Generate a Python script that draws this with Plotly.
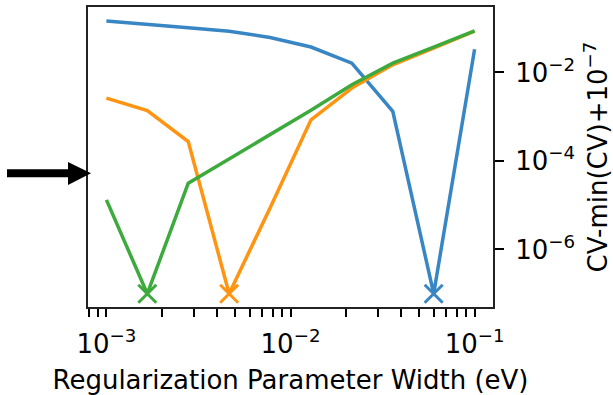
import plotly.graph_objects as go

# Regularization widths (eV) scanned in the cross-validation
widths = [0.001, 0.001668, 0.002783, 0.004642, 0.007743,
          0.01292, 0.02154, 0.03594, 0.05995, 0.1]

# CV - min(CV) + 1e-7 for three data sets
cv_blue = [1.46e-1, 1.24e-1, 1.03e-1, 8.5e-2, 6.2e-2,
           3.76e-2, 1.63e-2, 1.32e-3, 1e-7, 3.35e-2]
cv_orange = [2.64e-3, 1.38e-3, 2.75e-4, 1e-7, 8.7e-6,
             8.5e-4, 4.44e-3, 1.49e-2, 3.56e-2, 8.65e-2]
cv_green = [1.32e-5, 1e-7, 3.15e-5, 1.12e-4, 3.89e-4,
            1.40e-3, 5.27e-3, 1.63e-2, 3.76e-2, 8.77e-2]

series = [("#3886c3", cv_blue), ("#ff9412", cv_orange), ("#3caa3c", cv_green)]

x_major = [1e-3, 1e-2, 1e-1]
x_major_text = ["10<sup>−3</sup>", "10<sup>−2</sup>", "10<sup>−1</sup>"]
y_ticks = [1e-2, 1e-4, 1e-6]
y_tick_text = ["10<sup>−2</sup>", "10<sup>−4</sup>", "10<sup>−6</sup>"]

# Figure geometry (pixels)
W, H = 613, 395
ML, MR, MT, MB = 88, 120, 7, 88
PW, PH = W - ML - MR, H - MT - MB

FONT = "DejaVu Sans"
FS = 26

fig = go.Figure()

for color, vals in series:
    fig.add_trace(go.Scatter(
        x=widths, y=vals, mode="lines",
        line=dict(color=color, width=3.5),
        showlegend=False, hoverinfo="skip",
    ))

# Mark the minimum of each curve
for color, vals in series:
    i = vals.index(min(vals))
    fig.add_trace(go.Scatter(
        x=[widths[i]], y=[vals[i]], mode="markers",
        marker=dict(symbol="x-thin", size=18, color=color,
                    line=dict(color=color, width=3)),
        showlegend=False, hoverinfo="skip",
    ))

# Minor tick positions on the log x axis: integer multiples inside the range
x_minor = []
for dec in [1e-4, 1e-3, 1e-2, 1e-1]:
    for m in range(2, 10):
        v = m * dec
        if 10 ** -3.1 <= v <= 10 ** -0.9:
            x_minor.append(v)

tick_style = dict(ticks="outside", ticklen=8, tickwidth=2, tickcolor="black")

fig.update_xaxes(
    type="log", range=[-3.1, -0.9], automargin=False,
    tickmode="array", tickvals=x_major, ticktext=x_major_text,
    minor=dict(tickmode="array", tickvals=x_minor, showgrid=False, **tick_style),
    showline=True, linecolor="#222222", linewidth=2, mirror=True,
    showgrid=False, zeroline=False,
    ticklabelstandoff=5,
    tickfont=dict(family=FONT, size=FS, color="black"),
    title=dict(text="Regularization Parameter Width (eV)",
               font=dict(family=FONT, size=FS, color="black"), standoff=16),
    **tick_style,
)
fig.update_yaxes(
    type="log", range=[-7.3, -0.52], side="right", automargin=False,
    tickmode="array", tickvals=y_ticks, ticktext=y_tick_text,
    ticks="outside", ticklen=9, tickwidth=2, tickcolor="black",
    showline=True, linecolor="#222222", linewidth=2, mirror=True,
    showgrid=False, zeroline=False,
    ticklabelstandoff=6,
    tickfont=dict(family=FONT, size=FS, color="black"),
    title=dict(text="CV-min(CV)+10<sup>−7</sup>",
               font=dict(family=FONT, size=FS, color="black"), standoff=18),
)

# Arrow on the left, pointing at the axis
def px_to_paper(px, py):
    return (px - ML) / PW, (H - MB - py) / PH

x0, y0 = px_to_paper(7, 177.3)
x1, y1 = px_to_paper(69, 169.3)
fig.add_shape(type="rect", xref="paper", yref="paper",
              x0=x0, y0=y0, x1=x1, y1=y1,
              fillcolor="black", line=dict(width=0))
a = px_to_paper(68, 162)
b = px_to_paper(91, 173.3)
c = px_to_paper(68, 185)
fig.add_shape(type="path", xref="paper", yref="paper",
              path=f"M {a[0]} {a[1]} L {b[0]} {b[1]} L {c[0]} {c[1]} Z",
              fillcolor="black", line=dict(width=0))

fig.update_layout(
    width=W, height=H,
    margin=dict(l=ML, r=MR, t=MT, b=MB),
    paper_bgcolor="white", plot_bgcolor="white",
    font=dict(family=FONT, color="black"),
)

fig.write_html("out.html")
